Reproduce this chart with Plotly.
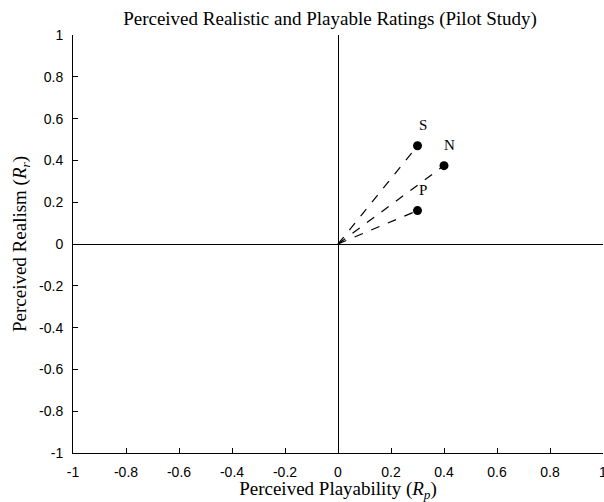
import plotly.graph_objects as go

labels = ["S", "N", "P"]
playability = [0.30, 0.40, 0.30]
realism = [0.47, 0.375, 0.16]
tick_vals = [-1, -0.8, -0.6, -0.4, -0.2, 0, 0.2, 0.4, 0.6, 0.8, 1]
tick_text = ["-1", "-0.8", "-0.6", "-0.4", "-0.2", "0", "0.2", "0.4", "0.6", "0.8", "1"]

SERIF = "Liberation Serif, Times New Roman, serif"
SANS = "Liberation Sans, Arial, sans-serif"

W, H = 604, 502

fig = go.Figure()
for lab, px, py in zip(labels, playability, realism):
    fig.add_trace(go.Scatter(x=[0, px], y=[0, py], mode="lines",
                             line=dict(color="black", width=1.2, dash="dash"),
                             showlegend=False, hoverinfo="skip"))
fig.add_trace(go.Scatter(x=playability, y=realism, mode="markers",
                         marker=dict(color="black", size=9),
                         showlegend=False))
for lab, px, py in zip(labels, playability, realism):
    fig.add_annotation(x=px, y=py, text=lab, showarrow=False,
                       xshift=5, yshift=21,
                       font=dict(family=SERIF, size=15, color="black"))

axis_common = dict(range=[-1, 1], tickvals=tick_vals, ticktext=tick_text,
                   showline=True, linecolor="black", linewidth=1,
                   ticks="inside", ticklen=5, tickcolor="black", tickwidth=1,
                   showgrid=False, zeroline=True, zerolinecolor="black",
                   zerolinewidth=1, mirror=False, automargin=False,
                   ticklabeloverflow="allow",
                   tickfont=dict(family=SANS, size=14, color="black"))

fig.update_layout(
    width=W, height=H,
    margin=dict(l=73, r=1, t=35, b=49),
    paper_bgcolor="white", plot_bgcolor="white",
    title=dict(text="Perceived Realistic and Playable Ratings (Pilot Study)",
               x=330 / W, xanchor="center",
               y=1 - 18 / H, yanchor="middle",
               yref="container",
               font=dict(family=SERIF, size=19, color="black")),
    xaxis=dict(**axis_common, ticklabelstandoff=6,
               title=dict(text="Perceived Playability (<i>R</i><sub><i>p</i></sub>)",
                          standoff=5,
                          font=dict(family=SERIF, size=19, color="black"))),
    yaxis=dict(**axis_common, ticklabelstandoff=6,
               title=dict(text="Perceived Realism (<i>R</i><sub><i>r</i></sub>)",
                          standoff=7,
                          font=dict(family=SERIF, size=19, color="black"))),
)

fig.write_html("out.html", config={"displayModeBar": False},
               post_script="document.body.style.margin='0';"
                           "document.body.style.overflow='hidden';")
